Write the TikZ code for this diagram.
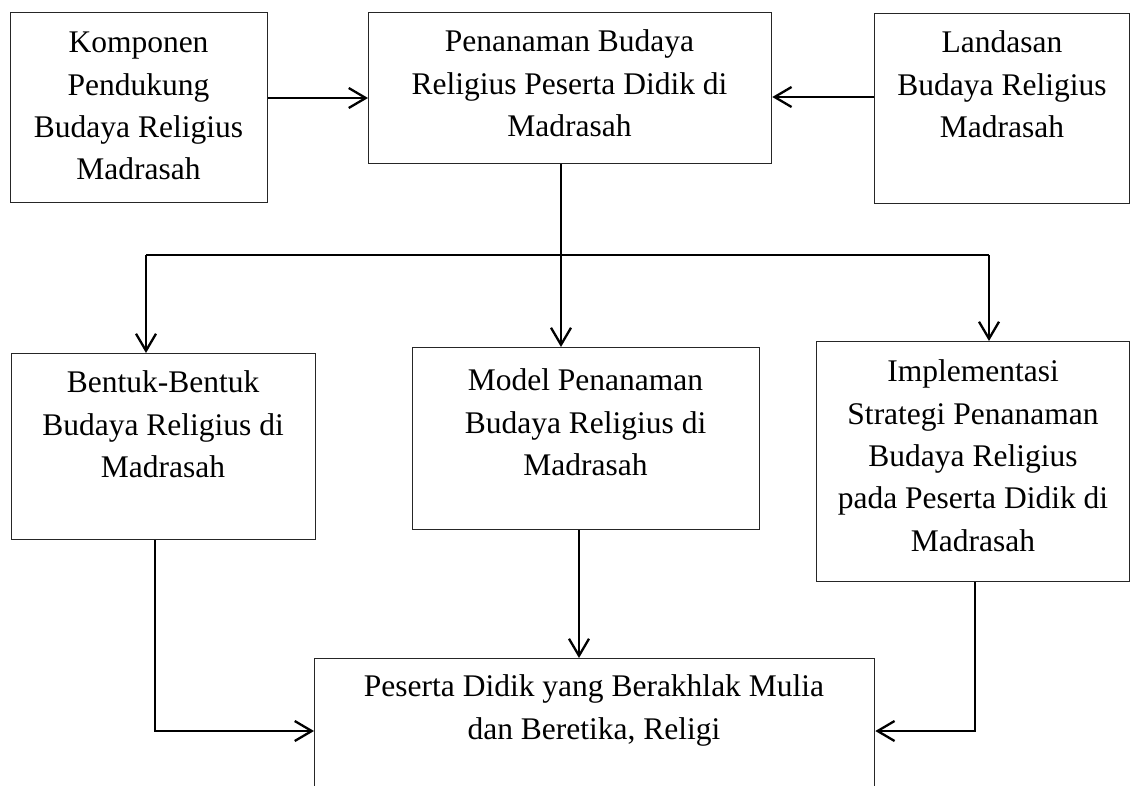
\documentclass[tikz,border=0pt]{standalone}
\usepackage{fontspec}
\setmainfont{Liberation Serif}
\usetikzlibrary{arrows.meta,calc}
\begin{document}
\begin{tikzpicture}[x=1pt,y=-1pt,
  box/.style={draw=black!85, line width=1.3pt, rectangle, inner sep=0pt, anchor=north west},
  txt/.style={anchor=north, align=center, inner sep=0pt, font=\fontsize{31.5}{42.3}\selectfont},
  arr/.style={line width=2.3pt, -{Straight Barb[length=17pt,width=20pt,line width=2.3pt]}},
  conn/.style={line width=2.3pt}]
\clip (0,0) rectangle (1130,785);
\fill[white] (0,0) rectangle (1130,785);
% boxes
\node[box, minimum width=257pt, minimum height=190pt] (komp) at (10,12) {};
\node[box, minimum width=403pt, minimum height=151pt] (pen) at (368,12) {};
\node[box, minimum width=255pt, minimum height=190pt] (land) at (874,13) {};
\node[box, minimum width=304pt, minimum height=186pt] (bent) at (11,353) {};
\node[box, minimum width=347pt, minimum height=182pt] (model) at (412,347) {};
\node[box, minimum width=313pt, minimum height=240pt] (impl) at (816,341) {};
\node[box, minimum width=560pt, minimum height=150pt] (pes) at (314,658) {};
% texts
\node[txt] (tkomp) at (138.5,23) {\strut Komponen\\Pendukung\\Budaya Religius\\Madrasah};
\node[txt] (tpen) at (569.5,22) {\strut Penanaman Budaya\\Religius Peserta Didik di\\Madrasah};
\node[txt] (tland) at (1002,23) {\strut Landasan\\Budaya Religius\\Madrasah};
\node[txt] (tbent) at (163,363) {\strut Bentuk-Bentuk\\Budaya Religius di\\Madrasah};
\node[txt] (tmodel) at (585.5,361) {\strut Model Penanaman\\Budaya Religius di\\Madrasah};
\node[txt] (timpl) at (973,352) {\strut Implementasi\\Strategi Penanaman\\Budaya Religius\\pada Peserta Didik di\\Madrasah};
\node[txt] (tpes) at (594,667) {\strut Peserta Didik yang Berakhlak Mulia\\dan Beretika, Religi};
% top connectors
\draw[arr] (komp.north east) ++(0,86) coordinate (k1) -- (k1 -| pen.west);
\draw[arr] (land.north west) ++(0,84) coordinate (l1) -- (l1 -| pen.east);
% distribution
\coordinate (hub) at (561,255);
\coordinate (hl) at (146,255);
\coordinate (hr) at (989,255);
\draw[conn] (pen.south -| hub) -- (hub);
\draw[conn] (hl) -- (hr);
\draw[arr] (hl) -- (hl |- bent.north);
\draw[arr] (hub) -- (hub |- model.north);
\draw[arr] (hr) -- (hr |- impl.north);
% bottom connectors
\coordinate (bl) at (155,731);
\coordinate (br) at (975,731);
\coordinate (mb) at (579,600);
\draw[arr] (bl |- bent.south) -- (bl) -- (bl -| pes.west);
\draw[arr] (mb |- model.south) -- (mb |- pes.north);
\draw[arr] (br |- impl.south) -- (br) -- (br -| pes.east);
\end{tikzpicture}
\end{document}
